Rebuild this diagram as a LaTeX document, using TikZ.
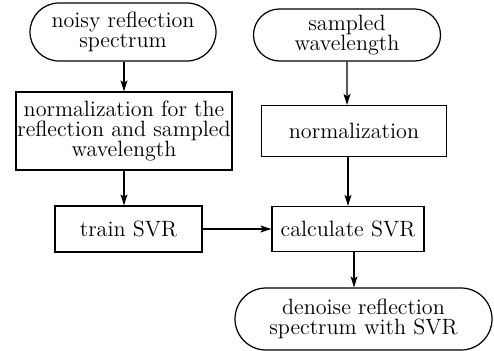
\documentclass[tikz,border=0pt]{standalone}
\usetikzlibrary{arrows.meta, positioning, shapes.misc}
\tikzset{
  every picture/.style={line width=0.7pt},
  txt/.style={align=center, inner sep=0pt, font=\fontsize{12.6}{11.6}\selectfont},
  box/.style={draw, rectangle, txt},
  term/.style={draw, rounded rectangle, txt},
  arrow/.style={-{Stealth[length=2.2mm, width=1.4mm, inset=0.5mm]}},
}
\begin{document}
\begin{tikzpicture}
  \useasboundingbox (0,0) rectangle (9.88,-7.02);
  \node[term, minimum width=3.72cm, minimum height=1.16cm] (noisy) at (2.46,-0.64) {noisy reflection\\spectrum};
  \node[box, minimum width=4.32cm, minimum height=1.56cm] (normboth) at (2.48,-2.62) {normalization for the\\reflection and sampled\\wavelength};
  \node[term, minimum width=3.74cm, minimum height=1.04cm] (sampled) at (6.94,-0.70) {sampled\\wavelength};
  \node[box, minimum width=3.70cm, minimum height=1.02cm] (norm) at (7.08,-2.62) {normalization};
  \node[box, minimum width=2.94cm, minimum height=0.92cm] (train) at (2.57,-4.58) {train SVR};
  \node[box, minimum width=3.04cm, minimum height=0.90cm] (calc) at (6.96,-4.58) {calculate SVR};
  \node[term, minimum width=5.14cm, minimum height=1.24cm] (denoise) at (7.27,-6.38) {denoise reflection\\spectrum with SVR};

  \draw[arrow] (noisy.south -| normboth) -- (normboth);
  \draw[arrow] (normboth) -- (normboth |- train.north);
  \draw[arrow] (sampled) -- (sampled |- norm.north);
  \draw[arrow] (calc |- norm.south) -- (calc);
  \draw[arrow] (train) -- (calc);
  \draw[arrow] (calc.south -| 7.08,0) -- (denoise.north -| 7.08,0);
\end{tikzpicture}
\end{document}
